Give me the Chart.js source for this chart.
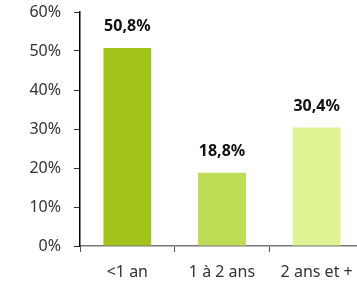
<!DOCTYPE html>
<html><head><meta charset="utf-8">
<script src="https://cdn.jsdelivr.net/npm/chart.js@4/dist/chart.umd.min.js"></script>
<style>html,body{margin:0;padding:0;overflow:hidden;background:#fff}#wrap{width:370px;height:285px;position:relative}</style>
</head><body>
<div id="wrap"><canvas id="c" width="370" height="285"></canvas></div>
<script>
const categories = ['<1 an', '1 à 2 ans', '2 ans et +'];
const values = [50.8, 18.8, 30.4];
const valueLabels = ['50,8%', '18,8%', '30,4%'];
const barColors = ['#a3c51b', '#bedb55', '#def393'];
const yTicks = [0, 10, 20, 30, 40, 50, 60];

const FONT = '"Noto Sans", sans-serif';

const dataLabelPlugin = {
  id: 'dataLabels',
  afterDatasetsDraw(chart) {
    const ctx = chart.ctx;
    const meta = chart.getDatasetMeta(0);
    ctx.save();
    ctx.font = 'bold 16px ' + FONT;
    ctx.fillStyle = '#111';
    ctx.textAlign = 'center';
    ctx.textBaseline = 'middle';
    meta.data.forEach((bar, i) => {
      ctx.fillText(valueLabels[i], bar.x, bar.y - 21);
    });
    ctx.restore();
  }
};

new Chart(document.getElementById('c'), {
  type: 'bar',
  data: {
    labels: categories,
    datasets: [{
      data: values,
      backgroundColor: barColors,
      borderWidth: 0,
      categoryPercentage: 1.0,
      barPercentage: 0.505
    }]
  },
  options: {
    responsive: false,
    animation: false,
    devicePixelRatio: 1,
    layout: { padding: { top: 12, right: 6, left: 0, bottom: 0 } },
    plugins: { legend: { display: false }, tooltip: { enabled: false } },
    scales: {
      x: {
        offset: true,
        grid: { offset: true, drawOnChartArea: false, drawTicks: true, tickLength: 6, color: '#555', lineWidth: 1 },
        border: { display: true, color: '#777', width: 1.5 },
        ticks: { color: '#333', font: { family: FONT, size: 16, lineHeight: 1 }, padding: 12 },
        afterFit(s) { s.height = 39; s.paddingLeft = 0; s.paddingRight = 0; }
      },
      y: {
        min: 0, max: 60,
        afterBuildTicks(s) { s.ticks = yTicks.map(v => ({ value: v })); },
        grid: { drawOnChartArea: false, drawTicks: true, tickLength: 6, color: '#333' },
        border: { display: true, color: '#000', width: 1.5 },
        ticks: { color: '#333', font: { family: FONT, size: 16, lineHeight: 1 }, padding: 13, callback: v => v + '%' },
        afterFit(s) { s.width = 80; s.paddingTop = 0; s.paddingBottom = 0; }
      }
    }
  },
  plugins: [dataLabelPlugin]
});
</script>
</body></html>
